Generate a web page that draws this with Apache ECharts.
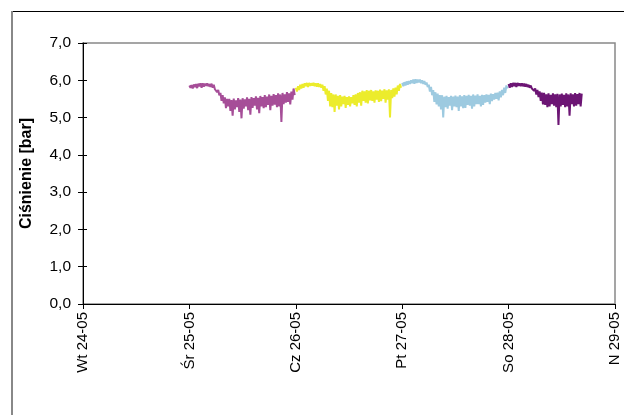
<!DOCTYPE html>
<html>
<head>
<meta charset="utf-8">
<script src="https://cdn.jsdelivr.net/npm/echarts@6/dist/echarts.min.js"></script>
<style>
html,body{margin:0;padding:0;background:#fff;}
#c{width:624px;height:415px;}
</style>
</head>
<body>
<div id="c"></div>
<script>
// tick labels (days, one per 24 h starting 24-05 00:00)
var dayLabels = ['Wt 24-05', 'Śr 25-05', 'Cz 26-05', 'Pt 27-05', 'So 28-05', 'N 29-05'];
// pressure [bar], 15-minute samples from 00:00 of each day
var wed25 = [
5.86,5.80,5.87,5.78, 5.89,5.82,5.90,5.79, 5.91,5.84,5.92,5.80, 5.92,5.83,5.91,5.85,
5.92,5.84,5.90,5.82, 5.91,5.80,5.88,5.76, 5.80,5.68,5.74,5.60, 5.66,5.45,5.60,5.38,
5.54,5.25,5.50,5.30, 5.50,5.18,5.47,5.05, 5.51,5.22,5.46,5.28, 5.52,5.15,5.48,4.98,
5.52,5.24,5.49,5.30, 5.54,5.20,5.50,5.08, 5.55,5.26,5.52,5.32, 5.57,5.22,5.53,5.12,
5.58,5.30,5.55,5.25, 5.60,5.28,5.56,5.34, 5.62,5.20,5.58,5.32, 5.63,5.35,5.60,5.28,
5.65,5.30,5.62,4.88, 5.66,5.36,5.62,5.40, 5.68,5.42,5.65,5.35, 5.70,5.48,5.78,5.60
];
var thu26 = [
5.80,5.70,5.84,5.74, 5.88,5.78,5.90,5.80, 5.92,5.84,5.93,5.82, 5.93,5.85,5.92,5.86,
5.93,5.84,5.92,5.83, 5.92,5.82,5.90,5.80, 5.88,5.72,5.84,5.62, 5.78,5.45,5.72,5.30,
5.66,5.28,5.62,5.15, 5.62,5.32,5.58,5.22, 5.60,5.30,5.56,5.36, 5.58,5.26,5.55,5.34,
5.57,5.30,5.55,5.38, 5.60,5.34,5.62,5.30, 5.66,5.40,5.68,5.32, 5.72,5.45,5.70,5.40,
5.74,5.38,5.72,5.46, 5.74,5.45,5.70,5.40, 5.73,5.48,5.72,5.42, 5.75,5.44,5.72,5.50,
5.76,5.40,5.73,5.48, 5.76,5.00,5.74,5.52, 5.78,5.56,5.80,5.62, 5.86,5.72,5.90,5.80
];
var fri27 = [
5.93,5.84,5.95,5.86, 5.97,5.88,5.98,5.90, 6.00,5.92,6.02,5.91, 6.03,5.93,6.02,5.94,
6.02,5.92,6.00,5.90, 5.98,5.88,5.94,5.82, 5.88,5.70,5.82,5.60, 5.74,5.42,5.68,5.35,
5.64,5.30,5.60,5.22, 5.60,5.00,5.56,5.28, 5.58,5.24,5.55,5.32, 5.58,5.20,5.56,5.30,
5.59,5.28,5.56,5.18, 5.60,5.30,5.57,5.25, 5.60,5.26,5.58,5.34, 5.61,5.32,5.58,5.24,
5.62,5.30,5.59,5.36, 5.62,5.36,5.58,5.30, 5.61,5.34,5.60,5.40, 5.62,5.42,5.61,5.36,
5.64,5.44,5.63,5.48, 5.66,5.50,5.67,5.46, 5.70,5.54,5.74,5.60, 5.80,5.66,5.86,5.78
];
var sat28 = [
5.90,5.80,5.92,5.82, 5.93,5.84,5.93,5.82, 5.93,5.85,5.92,5.84, 5.92,5.84,5.91,5.83,
5.90,5.82,5.88,5.80, 5.86,5.78,5.82,5.72, 5.78,5.62,5.74,5.55, 5.70,5.45,5.67,5.35,
5.66,5.34,5.62,5.28, 5.65,5.30,5.61,5.36, 5.65,5.32,5.62,5.28, 5.64,4.80,5.62,5.30,
5.64,5.34,5.61,5.28, 5.65,5.30,5.62,5.05, 5.65,5.36,5.62,5.30, 5.66,5.32,5.63,5.36,
5.66,5.30,5.64
];
var seriesDays = [
  {vals: wed25, day: 1, color: '#A64E98'},
  {vals: thu26, day: 2, color: '#ECEC2C'},
  {vals: fri27, day: 3, color: '#9DCAE0'},
  {vals: sat28, day: 4, color: '#6C1574'}
];

function toPoints(vals, day){
  var out = [];
  for (var i = 0; i < vals.length; i++) out.push([day * 24 + i * 0.25, vals[i]]);
  return out;
}

var chart = echarts.init(document.getElementById('c'), null, {renderer: 'canvas'});
var font = 'Liberation Sans, Arial, sans-serif';
var option = {
  animation: false,
  backgroundColor: '#fff',
  grid: {left: 83, top: 43, right: 9, bottom: 111, show: true, borderColor: '#888', borderWidth: 1.5, backgroundColor: 'transparent'},
  xAxis: {
    type: 'value', min: 0, max: 120, interval: 24,
    axisLine: {show: true, lineStyle: {color: '#000', width: 1}},
    axisTick: {show: true, length: 5, lineStyle: {color: '#000'}},
    splitLine: {show: false},
    axisLabel: {
      rotate: 90, margin: 8, color: '#000', fontFamily: font, fontSize: 15,
      formatter: function(v){ return dayLabels[Math.round(v / 24)]; }
    }
  },
  yAxis: [{
    type: 'value', min: 0, max: 7, interval: 1,
    name: 'Ciśnienie [bar]', nameLocation: 'middle', nameGap: 48, nameRotate: 90,
    nameTextStyle: {fontFamily: font, fontSize: 16, fontWeight: 'bold', color: '#000'},
    axisLine: {show: true, lineStyle: {color: '#000', width: 1}},
    axisTick: {show: true, length: 5, lineStyle: {color: '#000'}},
    splitLine: {show: false},
    axisLabel: {
      margin: 12, color: '#000', fontFamily: font, fontSize: 15.5,
      formatter: function(v){ return v.toFixed(1).replace('.', ','); }
    }
  }, {
    type: 'value', min: 0, max: 7, interval: 1, position: 'left',
    axisLine: {show: false},
    axisTick: {show: true, inside: true, length: 4, lineStyle: {color: '#000'}},
    splitLine: {show: false},
    axisLabel: {show: false}
  }],
  graphic: [
    {type: 'line', shape: {x1: 12, y1: 11.5, x2: 624, y2: 11.5}, style: {stroke: '#000', lineWidth: 1}},
    {type: 'line', shape: {x1: 12, y1: 11, x2: 12, y2: 415}, style: {stroke: '#888', lineWidth: 2}}
  ],
  series: seriesDays.map(function(s){
    return {
      type: 'line', data: toPoints(s.vals, s.day), showSymbol: false, symbol: 'none',
      lineStyle: {color: s.color, width: 2}, itemStyle: {color: s.color}, yAxisIndex: 0
    };
  })
};
chart.setOption(option);
</script>
</body>
</html>
